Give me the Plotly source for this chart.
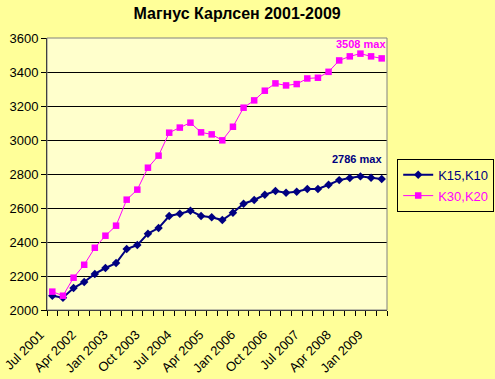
import plotly.graph_objects as go

quarters = ["Jul 2001", "Oct 2001", "Jan 2002", "Apr 2002", "Jul 2002", "Oct 2002",
            "Jan 2003", "Apr 2003", "Jul 2003", "Oct 2003", "Jan 2004", "Apr 2004",
            "Jul 2004", "Oct 2004", "Jan 2005", "Apr 2005", "Jul 2005", "Oct 2005",
            "Jan 2006", "Apr 2006", "Jul 2006", "Oct 2006", "Jan 2007", "Apr 2007",
            "Jul 2007", "Oct 2007", "Jan 2008", "Apr 2008", "Jul 2008", "Oct 2008",
            "Jan 2009", "Apr 2009"]

k15_k10 = [2084, 2072, 2129, 2165, 2212, 2247, 2276, 2359, 2382, 2449, 2482, 2553,
           2566, 2584, 2553, 2545, 2529, 2572, 2625, 2647, 2678, 2700, 2690, 2696,
           2712, 2712, 2737, 2764, 2776, 2786, 2778, 2770]

k30_k20 = [2108, 2084, 2190, 2266, 2366, 2437, 2496, 2649, 2708, 2837, 2908, 3043,
           3073, 3102, 3045, 3033, 2998, 3078, 3190, 3233, 3290, 3333, 3321, 3329,
           3362, 3366, 3401, 3468, 3492, 3508, 3492, 3480]

y_ticks = [2000, 2200, 2400, 2600, 2800, 3000, 3200, 3400, 3600]
label_every = 3

FONT = "Liberation Sans, Arial, sans-serif"
NAVY = "#000080"
MAGENTA = "#FF00FF"

xs = list(range(len(quarters)))

fig = go.Figure()
fig.add_trace(go.Scatter(
    x=xs, y=k15_k10, mode="lines+markers",
    name=f"<span style='color:{NAVY}'>K15,K10</span>",
    legendgroup="a",
    line=dict(color=NAVY, width=2),
    marker=dict(symbol="diamond", size=6.5, color=NAVY),
))
fig.add_trace(go.Scatter(
    x=xs, y=k30_k20, mode="lines+markers",
    name=f"<span style='color:{MAGENTA}'>K30,K20</span>",
    legendgroup="b",
    line=dict(color=MAGENTA, width=1),
    marker=dict(symbol="square", size=6.5, color=MAGENTA),
))

i_max2 = k30_k20.index(max(k30_k20))
i_max1 = k15_k10.index(max(k15_k10))
fig.add_annotation(x=i_max2, y=max(k30_k20), text=f"<b>{max(k30_k20)} max</b>",
                   showarrow=False, yshift=10, xshift=1,
                   font=dict(family=FONT, size=11, color=MAGENTA))
fig.add_annotation(x=i_max1, y=max(k15_k10), text=f"<b>{max(k15_k10)} max</b>",
                   showarrow=False, yshift=17, xshift=-3,
                   font=dict(family=FONT, size=11, color=NAVY))

fig.add_shape(type="rect", xref="paper", yref="paper", x0=0, x1=1, y0=0, y1=1,
              line=dict(color="#808080", width=1), layer="above")

fig.update_layout(
    template="none",
    width=495, height=379,
    margin=dict(l=47, r=108, t=38, b=69, autoexpand=False),
    paper_bgcolor="#FFFF99",
    plot_bgcolor="#FFFFCC",
    font=dict(family=FONT, size=13, color="black"),
    title=dict(text="<b>Магнус Карлсен 2001-2009</b>", x=0.479, xanchor="center",
               y=0.965, yanchor="middle", font=dict(family=FONT, size=16, color="black")),
    showlegend=True,
    legend=dict(x=1.03, y=0.556, xanchor="left", yanchor="top",
                bgcolor="#FFFF99", bordercolor="black", borderwidth=1,
                itemwidth=30, traceorder="grouped", tracegroupgap=1,
                font=dict(family=FONT, size=13)),
)

fig.update_xaxes(
    automargin=False,
    range=[-0.5, len(quarters) - 0.5],
    tickmode="array",
    tickvals=xs[::label_every],
    ticktext=quarters[::label_every],
    tickangle=-45,
    ticks="",
    ticklabelshift=-12,
    ticklabelstandoff=11,
    showgrid=False, zeroline=False,
    showline=True, linecolor="black", linewidth=1,
    tickfont=dict(family=FONT, size=13, color="black"),
    minor=dict(tickmode="linear", tick0=-0.5, dtick=1, ticks="outside",
               ticklen=5, tickcolor="black", showgrid=False),
)
fig.update_yaxes(
    automargin=False,
    range=[y_ticks[0], y_ticks[-1]],
    tickmode="array", tickvals=y_ticks,
    ticks="outside", ticklen=5, tickcolor="black",
    showgrid=True, gridcolor="black", gridwidth=1,
    zeroline=False,
    showline=True, linecolor="black", linewidth=1,
    tickfont=dict(family=FONT, size=13, color="black"),
)

fig.write_html("out.html", config={"displayModeBar": False},
               post_script="document.body.style.margin='0';document.body.style.padding='0';")
